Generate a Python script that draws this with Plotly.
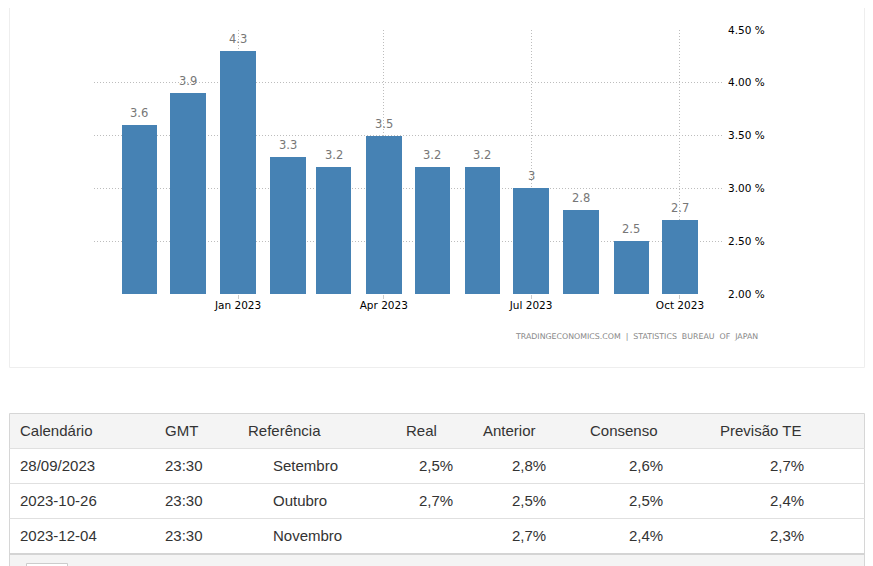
import plotly.graph_objects as go

# ---- chart data ----
months = ["2022-11-01", "2022-12-01", "2023-01-01", "2023-02-01", "2023-03-01", "2023-04-01",
          "2023-05-01", "2023-06-01", "2023-07-01", "2023-08-01", "2023-09-01", "2023-10-01"]
inflation = [3.6, 3.9, 4.3, 3.3, 3.2, 3.5, 3.2, 3.2, 3.0, 2.8, 2.5, 2.7]
x_ticks = ["2023-01-01", "2023-04-01", "2023-07-01", "2023-10-01"]
y_ticks = [2.0, 2.5, 3.0, 3.5, 4.0, 4.5]
source_text = "TRADINGECONOMICS.COM  |  STATISTICS  BUREAU  OF  JAPAN"

# ---- table data ----
headers = ["Calendário", "GMT", "Referência", "Real", "Anterior", "Consenso", "Previsão TE"]
cal_dates = ["28/09/2023", "2023-10-26", "2023-12-04"]
gmt_times = ["23:30", "23:30", "23:30"]
refs = ["Setembro", "Outubro", "Novembro"]
real = ["2,5%", "2,7%", ""]
anterior = ["2,8%", "2,5%", "2,7%"]
consenso = ["2,6%", "2,5%", "2,4%"]
previsao = ["2,7%", "2,4%", "2,3%"]

# page body has an 8px margin; figure fills the rest of the 873x566 window
OFF = 8
W, H = 873 - OFF, 566 - OFF


def px(x):
    return (x - OFF) / W


def py(y):
    return 1 - (y - OFF) / H


fig = go.Figure()
fig.add_trace(go.Bar(
    x=months, y=inflation, base=0,
    marker=dict(color="#4682B4", line=dict(width=0)),
    width=22 * 86400000,
    hoverinfo="x+y",
))

annotations = []
# bar value labels
for m, v in zip(months, inflation):
    annotations.append(dict(
        x=m, y=v, xref="x", yref="y", text=f"{v:g}", showarrow=False,
        yanchor="bottom", yshift=3,
        font=dict(family="DejaVu Sans", size=11.5, color="#777777"),
    ))

# source text
annotations.append(dict(
    x=px(760), y=py(336), xref="paper", yref="paper", text=source_text,
    showarrow=False, xanchor="right", yanchor="middle",
    font=dict(family="DejaVu Sans", size=7.85, color="#888888"),
))

shapes = []
# chart container border
shapes.append(dict(type="rect", xref="paper", yref="paper",
                   x0=px(9.5), x1=px(864.5), y0=py(367.5), y1=py(-5),
                   line=dict(color="#eeeeee", width=1), fillcolor="rgba(0,0,0,0)", layer="below"))

# table background parts
shapes.append(dict(type="rect", xref="paper", yref="paper",
                   x0=px(9.5), x1=px(864.5), y0=py(448), y1=py(413.5),
                   line=dict(width=0), fillcolor="#f4f4f4", layer="below"))
shapes.append(dict(type="rect", xref="paper", yref="paper",
                   x0=px(9.5), x1=px(864.5), y0=py(570), y1=py(554),
                   line=dict(width=0), fillcolor="#f4f4f4", layer="below"))
# table outer border
shapes.append(dict(type="rect", xref="paper", yref="paper",
                   x0=px(9.5), x1=px(864.5), y0=py(570), y1=py(413.5),
                   line=dict(color="#d6d6d6", width=1), fillcolor="rgba(0,0,0,0)"))
# row separators
for yy in [448.5, 483.5, 518.5]:
    shapes.append(dict(type="line", xref="paper", yref="paper",
                       x0=px(9.5), x1=px(864.5), y0=py(yy), y1=py(yy),
                       line=dict(color="#e0e0e0", width=1)))
shapes.append(dict(type="line", xref="paper", yref="paper",
                   x0=px(9.5), x1=px(864.5), y0=py(554), y1=py(554),
                   line=dict(color="#d4d4d4", width=2)))
# pagination button stub
shapes.append(dict(type="rect", xref="paper", yref="paper",
                   x0=px(26.5), x1=px(67.5), y0=py(570), y1=py(563.5),
                   line=dict(color="#cccccc", width=1), fillcolor="#ffffff"))

tfont = dict(family="Liberation Sans, Arial", size=15, color="#333333")
PAD = 2  # annotation box padding compensation

# header text
header_x = [20, 165, 248, 437, 483, 590, 720]
header_anchor = ["left", "left", "left", "right", "left", "left", "left"]
for h, xx, a in zip(headers, header_x, header_anchor):
    xx2 = xx - PAD if a == "left" else xx + PAD
    annotations.append(dict(x=px(xx2), y=py(430.5), xref="paper", yref="paper", text=h,
                            showarrow=False, xanchor=a, yanchor="middle", font=tfont))

# body text
col_x = [20, 165, 273, 453, 546, 663, 804]
col_anchor = ["left", "left", "left", "right", "right", "right", "right"]
row_y = [465.5, 500.5, 535.5]
columns = [cal_dates, gmt_times, refs, real, anterior, consenso, previsao]
for col, xx, a in zip(columns, col_x, col_anchor):
    xx2 = xx - PAD if a == "left" else xx + PAD
    for val, yy in zip(col, row_y):
        if val:
            annotations.append(dict(x=px(xx2), y=py(yy), xref="paper", yref="paper", text=val,
                                    showarrow=False, xanchor=a, yanchor="middle", font=tfont))

grid_dash = "1px,2px"

fig.update_layout(
    width=W, height=H,
    margin=dict(l=0, r=0, t=0, b=0, autoexpand=False),
    paper_bgcolor="#ffffff", plot_bgcolor="#ffffff",
    showlegend=False,
    bargap=0,
    annotations=annotations,
    shapes=shapes,
    xaxis=dict(
        type="date",
        domain=[px(94), px(723)],
        range=["2022-10-04", "2023-10-27 14:00"],
        tickvals=x_ticks, tickformat="%b %Y",
        ticks="outside", ticklen=4, tickcolor="#cccccc",
        ticklabelstandoff=-3,
        showgrid=True, gridcolor="#bdbdbd", griddash=grid_dash, gridwidth=1,
        showline=False, zeroline=False,
        tickfont=dict(family="DejaVu Sans", size=10.5, color="#000000"),
    ),
    yaxis=dict(
        side="right",
        domain=[py(294), py(30)],
        range=[2.0, 4.5],
        tickvals=y_ticks, ticktext=[f"{v:.2f} %" for v in y_ticks],
        ticks="", ticklabelstandoff=4,
        showgrid=True, gridcolor="#bdbdbd", griddash=grid_dash, gridwidth=1,
        showline=False, zeroline=False,
        tickfont=dict(family="DejaVu Sans", size=10.5, color="#000000"),
    ),
)

fig.write_html("out.html")
